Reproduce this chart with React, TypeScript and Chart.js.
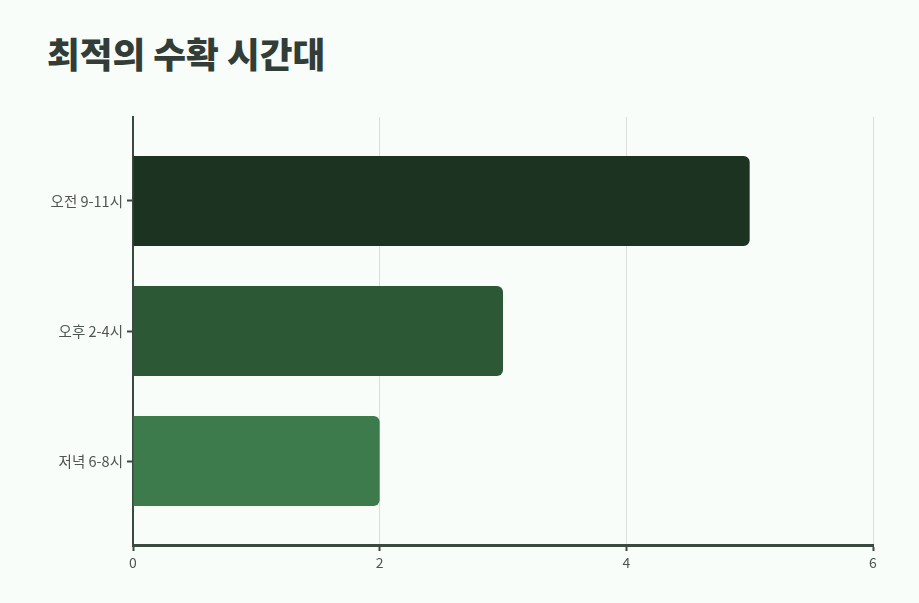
import React from "react";
import Chart from "chart.js/auto";

const timeSlots = ["오전 9-11시", "오후 2-4시", "저녁 6-8시"];
const harvestCounts = [5, 3, 2];
const barColors = ["#1b3320", "#2c5836", "#3d7a4c"];
const xTickMax = 6;
const xTickStep = 2;

const fontFamily = "'Noto Sans CJK KR', 'Noto Sans', sans-serif";
const axisColor = "#3a4a40";
const labelColor = "#4e5651";

// extra space above the first / below the last category, in category units
const categoryPad = 0.146;

export default function App() {
    const canvasRef = React.useRef<HTMLCanvasElement | null>(null);

    React.useEffect(() => {
        if (!canvasRef.current) return;
        const chart = new Chart(canvasRef.current, {
            type: "bar",
            data: {
                labels: timeSlots,
                datasets: [{
                    data: harvestCounts,
                    backgroundColor: barColors,
                    borderRadius: 6,
                    barPercentage: 0.9,
                    categoryPercentage: 0.77,
                }],
            },
            options: {
                indexAxis: "y",
                responsive: true,
                maintainAspectRatio: false,
                animation: false,
                layout: { padding: { top: 17, right: 46, left: 0, bottom: 0 } },
                plugins: {
                    legend: { display: false },
                    tooltip: { enabled: false },
                },
                scales: {
                    x: {
                        min: 0,
                        max: xTickMax,
                        ticks: {
                            stepSize: xTickStep,
                            color: labelColor,
                            padding: 3,
                            font: { family: fontFamily, size: 14 },
                        },
                        grid: {
                            color: "#dcdedc",
                            lineWidth: 1,
                            tickColor: axisColor,
                            tickLength: 6,
                            tickWidth: 2,
                        },
                        border: { color: axisColor, width: 3 },
                        afterFit: (scale: any) => { scale.height = 58; },
                    },
                    y: {
                        offset: true,
                        ticks: {
                            color: labelColor,
                            padding: 4,
                            font: { family: fontFamily, size: 14.5 },
                        },
                        grid: {
                            offset: false,
                            drawOnChartArea: false,
                            tickColor: axisColor,
                            tickLength: 6,
                            tickWidth: 2,
                        },
                        border: { color: axisColor, width: 2 },
                        afterBuildTicks: (scale: any) => {
                            scale._startValue -= categoryPad;
                            scale._valueRange += categoryPad * 2;
                        },
                        afterFit: (scale: any) => { scale.width = 133; },
                    },
                },
            },
        });
        return () => chart.destroy();
    }, []);

    return (
        <div style={{position: "fixed", inset: 0, background: "#f8fdf9", fontFamily}}>
            <div style={{
                position: "absolute", left: 47, top: 27,
                fontSize: 35.6, fontWeight: 800, color: "#333d37",
            }}>
                최적의 수확 시간대
            </div>
            <div style={{position: "absolute", left: 0, top: 100, width: 919, height: 503}}>
                <canvas ref={canvasRef}></canvas>
            </div>
        </div>
    );
}
